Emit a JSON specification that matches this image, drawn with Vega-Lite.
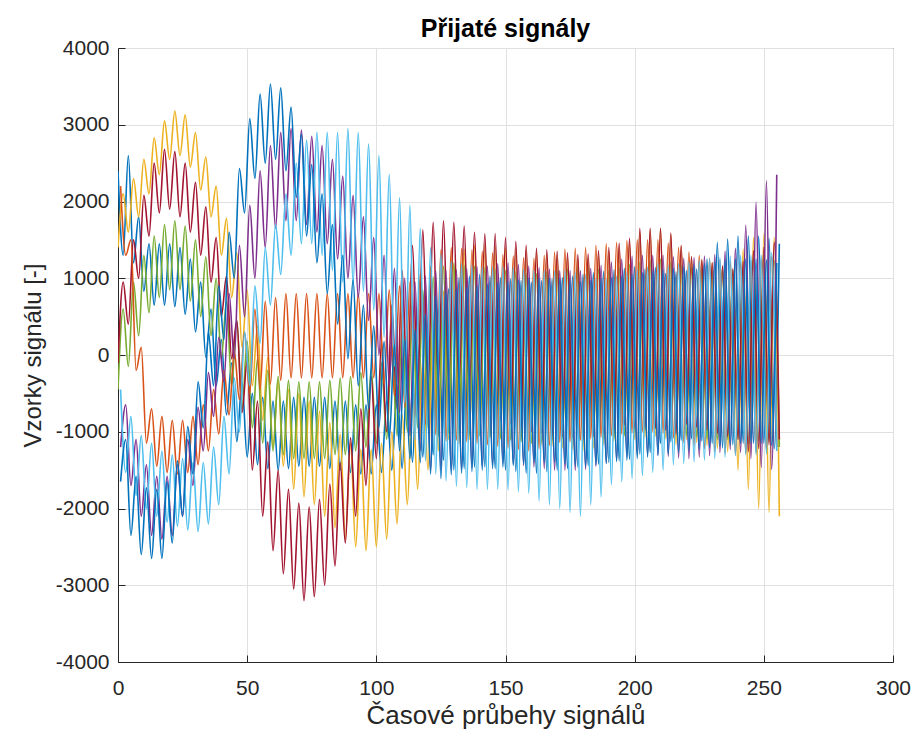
{
"$schema": "https://vega.github.io/schema/vega-lite/v6.json",
"width": 775,
"height": 614,
"autosize": {"type": "none"},
"padding": {"left": 118, "top": 48, "right": 28, "bottom": 76},
"background": "white",
"title": {"text": "Přijaté signály", "fontSize": 25, "fontWeight": "bold", "font": "Liberation Sans", "color": "#000000", "offset": -5, "anchor": "middle"},
"data": {"values": [
{"x":0,"s1":2400,"s3":1400,"s5":-450,"s7":-100},
{"x":1,"s2":2200,"s4":-1200,"s6":-450,"s8":-1650},
{"x":2,"s1":1300,"s3":2100,"s5":600,"s7":950},
{"x":3,"s2":1300,"s4":-650,"s6":-1530,"s8":-1100},
{"x":4,"s1":2600,"s3":1600,"s5":-150,"s7":400},
{"x":5,"s2":1500,"s4":-1700,"s6":-800,"s8":-2350},
{"x":6,"s1":1200,"s3":2300,"s5":950,"s7":1500},
{"x":7,"s2":-200,"s4":-1100,"s6":-1830,"s8":-1580},
{"x":8,"s1":1800,"s3":1800,"s5":250,"s7":1000},
{"x":9,"s2":100,"s4":-2100,"s6":-1050,"s8":-2600},
{"x":10,"s1":830,"s3":2550,"s5":1300,"s7":2080},
{"x":11,"s2":-1150,"s4":-1430,"s6":-2000,"s8":-1730},
{"x":12,"s1":1450,"s3":2100,"s5":550,"s7":1550},
{"x":13,"s2":-700,"s4":-2350,"s6":-1150,"s8":-2650},
{"x":14,"s1":650,"s3":2830,"s5":1550,"s7":2500},
{"x":15,"s2":-1450,"s4":-1580,"s6":-2100,"s8":-1750},
{"x":16,"s1":1450,"s3":2350,"s5":750,"s7":1850},
{"x":17,"s2":-800,"s4":-2400,"s6":-1250,"s8":-2650},
{"x":18,"s1":650,"s3":3050,"s5":1700,"s7":2680},
{"x":19,"s2":-1530,"s4":-1580,"s6":-2180,"s8":-1650},
{"x":20,"s1":1450,"s3":2550,"s5":850,"s7":1900},
{"x":21,"s2":-850,"s4":-2350,"s6":-1300,"s8":-2450},
{"x":22,"s1":630,"s3":3180,"s5":1750,"s7":2650},
{"x":23,"s2":-1550,"s4":-1430,"s6":-2230,"s8":-1380},
{"x":24,"s1":1400,"s3":2600,"s5":850,"s7":1800},
{"x":25,"s2":-850,"s4":-2100,"s6":-1350,"s8":-2100},
{"x":26,"s1":530,"s3":3130,"s5":1680,"s7":2500},
{"x":27,"s2":-1530,"s4":-1100,"s6":-2280,"s8":-930},
{"x":28,"s1":1250,"s3":2450,"s5":700,"s7":1600},
{"x":29,"s2":-800,"s4":-1700,"s6":-1400,"s8":-1550},
{"x":30,"s1":300,"s3":2900,"s5":1500,"s7":2250},
{"x":31,"s2":-1430,"s4":-680,"s6":-2300,"s8":-350},
{"x":32,"s1":950,"s3":2150,"s5":500,"s7":1300},
{"x":33,"s2":-650,"s4":-1250,"s6":-1400,"s8":-950},
{"x":34,"s1":-30,"s3":2580,"s5":1280,"s7":1930},
{"x":35,"s2":-1250,"s4":-230,"s6":-2200,"s8":300},
{"x":36,"s1":600,"s3":1800,"s5":250,"s7":950},
{"x":37,"s2":-450,"s4":-800,"s6":-1200,"s8":-400},
{"x":38,"s1":-400,"s3":2200,"s5":1000,"s7":1530},
{"x":39,"s2":-1030,"s4":230,"s6":-1950,"s8":900},
{"x":40,"s1":200,"s3":1300,"s5":-50,"s7":500},
{"x":41,"s2":-200,"s4":-350,"s6":-800,"s8":200},
{"x":42,"s1":-780,"s3":1780,"s5":700,"s7":1030},
{"x":43,"s2":-780,"s4":800,"s6":-1550,"s8":1600},
{"x":44,"s1":-100,"s3":750,"s5":-400,"s7":-50},
{"x":45,"s2":50,"s4":-50,"s6":-300,"s8":1000},
{"x":46,"s1":-1130,"s3":1330,"s5":450,"s7":450},
{"x":47,"s2":-580,"s4":1430,"s6":-1000,"s8":2430},
{"x":48,"s1":-350,"s3":100,"s5":-700,"s7":-750},
{"x":49,"s2":300,"s4":500,"s6":300,"s8":1850},
{"x":50,"s1":-1330,"s3":850,"s5":180,"s7":-80},
{"x":51,"s2":-500,"s4":1950,"s6":-400,"s8":3080},
{"x":52,"s1":-500,"s3":-400,"s5":-950,"s7":-1500},
{"x":53,"s2":600,"s4":1000,"s6":900,"s8":2300},
{"x":54,"s1":-1430,"s3":380,"s5":-50,"s7":-600},
{"x":55,"s2":-450,"s4":2400,"s6":150,"s8":3400},
{"x":56,"s1":-550,"s3":-850,"s5":-1150,"s7":-2100},
{"x":57,"s2":700,"s4":1400,"s6":1400,"s8":2500},
{"x":58,"s1":-1480,"s3":-30,"s5":-200,"s7":-1130},
{"x":59,"s2":-380,"s4":2730,"s6":650,"s8":3530},
{"x":60,"s1":-600,"s3":-1200,"s5":-1250,"s7":-2550},
{"x":61,"s2":750,"s4":1650,"s6":1700,"s8":2550},
{"x":62,"s1":-1500,"s3":-330,"s5":-280,"s7":-1500},
{"x":63,"s2":-330,"s4":2900,"s6":1050,"s8":3480},
{"x":64,"s1":-600,"s3":-1450,"s5":-1300,"s7":-2850},
{"x":65,"s2":800,"s4":1750,"s6":2100,"s8":2400},
{"x":66,"s1":-1480,"s3":-450,"s5":-330,"s7":-1750},
{"x":67,"s2":-300,"s4":2950,"s6":1300,"s8":3230},
{"x":68,"s1":-550,"s3":-1750,"s5":-1350,"s7":-3050},
{"x":69,"s2":800,"s4":1750,"s6":2500,"s8":2050},
{"x":70,"s1":-1450,"s3":-500,"s5":-350,"s7":-1930},
{"x":71,"s2":-300,"s4":2930,"s6":1450,"s8":2880},
{"x":72,"s1":-550,"s3":-1850,"s5":-1350,"s7":-3200},
{"x":73,"s2":800,"s4":1700,"s6":2800,"s8":1550},
{"x":74,"s1":-1450,"s3":-600,"s5":-350,"s7":-1980},
{"x":75,"s2":-300,"s4":2850,"s6":1450,"s8":2480},
{"x":76,"s1":-550,"s3":-1950,"s5":-1350,"s7":-3150},
{"x":77,"s2":800,"s4":1600,"s6":2900,"s8":1200},
{"x":78,"s1":-1450,"s3":-730,"s5":-350,"s7":-1880},
{"x":79,"s2":-300,"s4":2730,"s6":1300,"s8":2100},
{"x":80,"s1":-550,"s3":-2100,"s5":-1350,"s7":-3000},
{"x":81,"s2":800,"s4":1450,"s6":2900,"s8":800},
{"x":82,"s1":-1480,"s3":-880,"s5":-330,"s7":-1680},
{"x":83,"s2":-300,"s4":2550,"s6":1100,"s8":1700},
{"x":84,"s1":-600,"s3":-2250,"s5":-1300,"s7":-2750},
{"x":85,"s2":800,"s4":1250,"s6":2900,"s8":400},
{"x":86,"s1":-1500,"s3":-1030,"s5":-300,"s7":-1400},
{"x":87,"s2":-300,"s4":2330,"s6":950,"s8":1300},
{"x":88,"s1":-600,"s3":-2400,"s5":-1300,"s7":-2450},
{"x":89,"s2":800,"s4":1000,"s6":2950,"s8":-50},
{"x":90,"s1":-1530,"s3":-1150,"s5":-280,"s7":-1080},
{"x":91,"s2":-300,"s4":2080,"s6":930,"s8":980},
{"x":92,"s1":-650,"s3":-2500,"s5":-1250,"s7":-2100},
{"x":93,"s2":800,"s4":750,"s6":2900,"s8":-400},
{"x":94,"s1":-1550,"s3":-1230,"s5":-230,"s7":-700},
{"x":95,"s2":-300,"s4":1800,"s6":830,"s8":650},
{"x":96,"s1":-650,"s3":-2550,"s5":-1200,"s7":-1700},
{"x":97,"s2":800,"s4":450,"s6":2750,"s8":-700},
{"x":98,"s1":-1550,"s3":-1230,"s5":-180,"s7":-280},
{"x":99,"s2":-300,"s4":1530,"s6":580,"s8":380},
{"x":100,"s1":-650,"s3":-2500,"s5":-1150,"s7":-1350},
{"x":101,"s2":800,"s4":0,"s6":2600,"s8":-950},
{"x":102,"s1":-1530,"s3":-1150,"s5":-100,"s7":180},
{"x":103,"s2":-380,"s4":1300,"s6":230,"s8":180},
{"x":104,"s1":-600,"s3":-2400,"s5":-1100,"s7":-1000},
{"x":105,"s2":850,"s4":-400,"s6":2350,"s8":-1100},
{"x":106,"s1":-1500,"s3":-1000,"s5":130,"s7":650},
{"x":107,"s2":-530,"s4":1130,"s6":-150,"s8":130},
{"x":108,"s1":-400,"s3":-2200,"s5":-1050,"s7":-700},
{"x":109,"s2":900,"s4":-750,"s6":2050,"s8":-1250},
{"x":110,"s1":-1480,"s3":-780,"s5":380,"s7":1100},
{"x":111,"s2":-680,"s4":1000,"s6":-630,"s8":200},
{"x":112,"s1":-150,"s3":-1950,"s5":-1000,"s7":-500},
{"x":113,"s2":950,"s4":-1050,"s6":1950,"s8":-1350},
{"x":114,"s1":-1400,"s3":-450,"s5":630,"s7":1430},
{"x":115,"s2":-800,"s4":950,"s6":-1100,"s8":330},
{"x":116,"s1":150,"s3":-1750,"s5":-950,"s7":-450},
{"x":117,"s2":1050,"s4":-1250,"s6":1650,"s8":-1400},
{"x":118,"s1":-1330,"s3":-30,"s5":850,"s7":1630},
{"x":119,"s2":-900,"s4":1030,"s6":-1380,"s8":530},
{"x":120,"s1":400,"s3":-1500,"s5":-950,"s7":-400},
{"x":121,"s2":1150,"s4":-1500,"s6":1400,"s8":-1550},
{"x":122,"s1":-1300,"s3":430,"s5":1020,"s7":1730},
{"x":123,"s2":-1040,"s4":1100,"s6":-1550,"s8":770},
{"x":124,"s1":600,"s3":-1250,"s5":-1060,"s7":-350},
{"x":125,"s2":1370,"s4":-1500,"s6":1310,"s8":-1610},
{"x":126,"s1":-1370,"s3":830,"s5":1160,"s7":1750},
{"x":127,"s2":-1120,"s4":1100,"s6":-1640,"s8":820},
{"x":128,"s1":860,"s3":-1100,"s5":-1020,"s7":-350},
{"x":129,"s2":1400,"s4":-1500,"s6":1220,"s8":-1560},
{"x":130,"s1":-1500,"s3":1180,"s5":1200,"s7":1730},
{"x":131,"s2":-1110,"s4":1110,"s6":-1710,"s8":860},
{"x":132,"s1":1010,"s3":-1150,"s5":-1020,"s7":-400},
{"x":133,"s2":1390,"s4":-1490,"s6":1190,"s8":-1540},
{"x":134,"s1":-1480,"s3":1380,"s5":1170,"s7":1680},
{"x":135,"s2":-1130,"s4":1130,"s6":-1730,"s8":880},
{"x":136,"s1":1030,"s3":-1100,"s5":-1040,"s7":-450},
{"x":137,"s2":1370,"s4":-1470,"s6":1170,"s8":-1520},
{"x":138,"s1":-1460,"s3":1430,"s5":1160,"s7":1600},
{"x":139,"s2":-1150,"s4":1150,"s6":-1750,"s8":900},
{"x":140,"s1":1050,"s3":-1050,"s5":-1050,"s7":-550},
{"x":141,"s2":1350,"s4":-1450,"s6":1150,"s8":-1500},
{"x":142,"s1":-1460,"s3":1440,"s5":1140,"s7":1580},
{"x":143,"s2":-1170,"s4":1160,"s6":-1750,"s8":920},
{"x":144,"s1":1030,"s3":-1070,"s5":-1070,"s7":-800},
{"x":145,"s2":1330,"s4":-1430,"s6":1150,"s8":-1480},
{"x":146,"s1":-1480,"s3":1420,"s5":1120,"s7":1580},
{"x":147,"s2":-1190,"s4":1190,"s6":-1750,"s8":940},
{"x":148,"s1":1010,"s3":-1090,"s5":-1090,"s7":-850},
{"x":149,"s2":1310,"s4":-1410,"s6":1150,"s8":-1460},
{"x":150,"s1":-1500,"s3":1400,"s5":1100,"s7":1530},
{"x":151,"s2":-1210,"s4":1200,"s6":-1760,"s8":960},
{"x":152,"s1":990,"s3":-1100,"s5":-1110,"s7":-900},
{"x":153,"s2":1290,"s4":-1420,"s6":1140,"s8":-1440},
{"x":154,"s1":-1520,"s3":1390,"s5":1080,"s7":1480},
{"x":155,"s2":-1230,"s4":1180,"s6":-1780,"s8":980},
{"x":156,"s1":970,"s3":-1120,"s5":-1130,"s7":-950},
{"x":157,"s2":1270,"s4":-1440,"s6":1120,"s8":-1420},
{"x":158,"s1":-1540,"s3":1370,"s5":1060,"s7":1430},
{"x":159,"s2":-1250,"s4":1160,"s6":-1800,"s8":1000},
{"x":160,"s1":950,"s3":-1150,"s5":-1150,"s7":-1000},
{"x":161,"s2":1260,"s4":-1460,"s6":1100,"s8":-1400},
{"x":162,"s1":-1540,"s3":1340,"s5":1060,"s7":1390},
{"x":163,"s2":-1220,"s4":1140,"s6":-1900,"s8":1000},
{"x":164,"s1":970,"s3":-1170,"s5":-1130,"s7":-1020},
{"x":165,"s2":1300,"s4":-1480,"s6":1100,"s8":-1400},
{"x":166,"s1":-1520,"s3":1320,"s5":1080,"s7":1370},
{"x":167,"s2":-1180,"s4":1120,"s6":-1950,"s8":1000},
{"x":168,"s1":990,"s3":-1190,"s5":-1110,"s7":-1040},
{"x":169,"s2":1340,"s4":-1500,"s6":1100,"s8":-1400},
{"x":170,"s1":-1500,"s3":1300,"s5":1100,"s7":1350},
{"x":171,"s2":-1140,"s4":1100,"s6":-2000,"s8":1000},
{"x":172,"s1":1010,"s3":-1210,"s5":-1090,"s7":-1060},
{"x":173,"s2":1380,"s4":-1500,"s6":1100,"s8":-1420},
{"x":174,"s1":-1480,"s3":1280,"s5":1120,"s7":1330},
{"x":175,"s2":-1130,"s4":1100,"s6":-2050,"s8":980},
{"x":176,"s1":1030,"s3":-1230,"s5":-1070,"s7":-1080},
{"x":177,"s2":1390,"s4":-1500,"s6":1080,"s8":-1440},
{"x":178,"s1":-1460,"s3":1260,"s5":1140,"s7":1310},
{"x":179,"s2":-1110,"s4":1100,"s6":-2100,"s8":960},
{"x":180,"s1":1050,"s3":-1250,"s5":-1050,"s7":-1100},
{"x":181,"s2":1400,"s4":-1490,"s6":1050,"s8":-1450},
{"x":182,"s1":-1440,"s3":1270,"s5":1140,"s7":1320},
{"x":183,"s2":-1090,"s4":1130,"s6":-1950,"s8":970},
{"x":184,"s1":1070,"s3":-1210,"s5":-1070,"s7":-1060},
{"x":185,"s2":1430,"s4":-1450,"s6":1000,"s8":-1430},
{"x":186,"s1":-1420,"s3":1310,"s5":1120,"s7":1360},
{"x":187,"s2":-1070,"s4":1170,"s6":-1850,"s8":990},
{"x":188,"s1":1090,"s3":-1170,"s5":-1090,"s7":-1020},
{"x":189,"s2":1450,"s4":-1410,"s6":990,"s8":-1410},
{"x":190,"s1":-1400,"s3":1350,"s5":1100,"s7":1400},
{"x":191,"s2":-1050,"s4":1210,"s6":-1690,"s8":1010},
{"x":192,"s1":1110,"s3":-1120,"s5":-1080,"s7":-970},
{"x":193,"s2":1470,"s4":-1370,"s6":1030,"s8":-1390},
{"x":194,"s1":-1380,"s3":1410,"s5":1140,"s7":1460},
{"x":195,"s2":-1030,"s4":1250,"s6":-1650,"s8":1030},
{"x":196,"s1":1130,"s3":-1060,"s5":-1040,"s7":-910},
{"x":197,"s2":1490,"s4":-1330,"s6":1070,"s8":-1370},
{"x":198,"s1":-1360,"s3":1470,"s5":1180,"s7":1520},
{"x":199,"s2":-1010,"s4":1290,"s6":-1610,"s8":1050},
{"x":200,"s1":1150,"s3":-1100,"s5":-1000,"s7":-950},
{"x":201,"s2":1500,"s4":-1300,"s6":1110,"s8":-1350},
{"x":202,"s1":-1290,"s3":1610,"s5":1210,"s7":1650},
{"x":203,"s2":-1000,"s4":1300,"s6":-1570,"s8":1070},
{"x":204,"s1":1120,"s3":-1080,"s5":-980,"s7":-950},
{"x":205,"s2":1500,"s4":-1300,"s6":1150,"s8":-1330},
{"x":206,"s1":-1270,"s3":1630,"s5":1230,"s7":1650},
{"x":207,"s2":-1000,"s4":1300,"s6":-1530,"s8":1090},
{"x":208,"s1":1140,"s3":-1060,"s5":-960,"s7":-950},
{"x":209,"s2":1500,"s4":-1300,"s6":1190,"s8":-1310},
{"x":210,"s1":-1150,"s3":1650,"s5":1250,"s7":1650},
{"x":211,"s2":-1020,"s4":1300,"s6":-1500,"s8":1110},
{"x":212,"s1":1060,"s3":-1090,"s5":-970,"s7":-980},
{"x":213,"s2":1460,"s4":-1320,"s6":1170,"s8":-1290},
{"x":214,"s1":-1130,"s3":1570,"s5":1210,"s7":1590},
{"x":215,"s2":-1080,"s4":1280,"s6":-1430,"s8":1130},
{"x":216,"s1":1080,"s3":-1170,"s5":-1010,"s7":-1040},
{"x":217,"s2":1400,"s4":-1340,"s6":1190,"s8":-1270},
{"x":218,"s1":-1110,"s3":1420,"s5":1170,"s7":1430},
{"x":219,"s2":-1140,"s4":1260,"s6":-1410,"s8":1150},
{"x":220,"s1":1100,"s3":-1100,"s5":-1050,"s7":-900},
{"x":221,"s2":1340,"s4":-1350,"s6":1210,"s8":-1250},
{"x":222,"s1":-1090,"s3":1280,"s5":1140,"s7":1280},
{"x":223,"s2":-1180,"s4":1270,"s6":-1390,"s8":1170},
{"x":224,"s1":1120,"s3":-1140,"s5":-1070,"s7":-940},
{"x":225,"s2":1300,"s4":-1330,"s6":1230,"s8":-1230},
{"x":226,"s1":-1120,"s3":1240,"s5":1120,"s7":1240},
{"x":227,"s2":-1220,"s4":1290,"s6":-1370,"s8":1190},
{"x":228,"s1":1250,"s3":-1180,"s5":-1090,"s7":-980},
{"x":229,"s2":1260,"s4":-1310,"s6":1250,"s8":-1210},
{"x":230,"s1":-1150,"s3":1200,"s5":1100,"s7":1200},
{"x":231,"s2":-1260,"s4":1310,"s6":-1350,"s8":1210},
{"x":232,"s1":1470,"s3":-1220,"s5":-1100,"s7":-1020},
{"x":233,"s2":1240,"s4":-1270,"s6":1270,"s8":-1190},
{"x":234,"s1":-1210,"s3":1160,"s5":1100,"s7":1160},
{"x":235,"s2":-1280,"s4":1350,"s6":-1330,"s8":1230},
{"x":236,"s1":1510,"s3":-1260,"s5":-1100,"s7":-1060},
{"x":237,"s2":1220,"s4":-1230,"s6":1290,"s8":-1170},
{"x":238,"s1":-1170,"s3":1120,"s5":1100,"s7":1120},
{"x":239,"s2":-1300,"s4":1390,"s6":-1310,"s8":1250},
{"x":240,"s1":1550,"s3":-1500,"s5":-1100,"s7":-1100},
{"x":241,"s2":1210,"s4":-1270,"s6":1300,"s8":-1150},
{"x":242,"s1":-1150,"s3":1380,"s5":1120,"s7":1220},
{"x":243,"s2":-1280,"s4":1690,"s6":-1300,"s8":1250},
{"x":244,"s1":1550,"s3":-1750,"s5":-1160,"s7":-1260},
{"x":245,"s2":1230,"s4":-1350,"s6":1300,"s8":-1150},
{"x":246,"s1":-1150,"s3":1530,"s5":1260,"s7":1360},
{"x":247,"s2":-1270,"s4":1990,"s6":-1300,"s8":1250},
{"x":248,"s1":1550,"s3":-2000,"s5":-1120,"s7":-1220},
{"x":249,"s2":1250,"s4":-1470,"s6":1300,"s8":-1150},
{"x":250,"s1":-1150,"s3":1580,"s5":1300,"s7":1400},
{"x":251,"s2":-1240,"s4":2270,"s6":-1290,"s8":1240},
{"x":252,"s1":1520,"s3":-2050,"s5":-1130,"s7":-1170},
{"x":253,"s2":1280,"s4":-1490,"s6":1330,"s8":-1180},
{"x":254,"s1":-1220,"s3":1530,"s5":1230,"s7":1470},
{"x":255,"s2":-1200,"s4":2350,"s6":-1250,"s8":1200},
{"x":256,"s1":1450,"s3":-2100,"s5":-1200,"s7":-1100}
]},
"transform": [
{"fold": ["s1","s2","s3","s4","s5","s6","s7","s8"], "as": ["s","y"]},
{"filter": "isValid(datum.y)"}
],
"mark": {"type": "line", "strokeWidth": 1.6, "clip": true, "interpolate": "monotone"},
"encoding": {
"x": {"field": "x", "type": "quantitative", "scale": {"domain": [0,300], "nice": false, "zero": false},
 "axis": {"values": [0,50,100,150,200,250,300], "labelExpr": "'' + datum.value", "title": "Časové průbehy signálů", "titleFontSize": 26, "grid": true, "labelFlush": false, "labelOverlap": false, "tickSize": -7, "labelPadding": 22, "titlePadding": 4}},
"y": {"field": "y", "type": "quantitative", "scale": {"domain": [-4000,4000], "nice": false, "zero": false},
 "axis": {"values": [-4000,-3000,-2000,-1000,0,1000,2000,3000,4000], "labelExpr": "'' + datum.value", "title": "Vzorky signálu [-]", "titleFontSize": 24, "grid": true, "labelOverlap": false, "tickSize": -7, "labelPadding": 16, "titlePadding": 10}},
"color": {"field": "s", "type": "nominal", "legend": null,
 "scale": {"domain": ["s1","s2","s3","s4","s5","s6","s7","s8"], "range": ["#0072BD","#D95319","#EDB120","#7E2F8E","#77AC30","#4DBEEE","#A2142F","#0072BD"]}}
},
"config": {
"font": "Liberation Sans",
"view": {"stroke": "#262626", "strokeWidth": 1},
"axis": {"domainColor": "#262626", "domainWidth": 1, "tickColor": "#262626", "labelColor": "#262626", "titleColor": "#262626", "gridColor": "#e0e0e0", "gridWidth": 1, "labelFontSize": 21, "titleFontWeight": "normal", "labelFont": "Liberation Sans", "titleFont": "Liberation Sans"}
}
}
